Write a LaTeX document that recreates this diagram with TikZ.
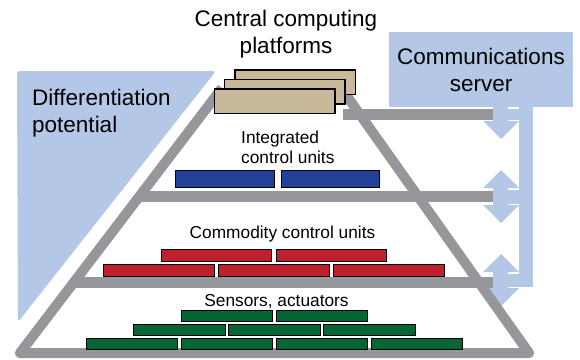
\documentclass[tikz,border=0pt]{standalone}
\usepackage{fontspec}
\setmainfont{Liberation Sans}
\usetikzlibrary{positioning}
\definecolor{pyrgray}{HTML}{96979A}
\definecolor{srvblue}{HTML}{B4C7E7}
\definecolor{cputan}{HTML}{C8B99B}
\definecolor{icublue}{HTML}{24419A}
\definecolor{ccured}{HTML}{C0202E}
\definecolor{sengreen}{HTML}{066535}

\begin{document}
\begin{tikzpicture}[x=1pt, y=-1pt,
    big/.style={font=\fontsize{22.5}{26.5}\selectfont, inner sep=0pt},
    small/.style={font=\fontsize{17.3}{19.5}\selectfont, inner sep=0pt},
    bar/.style={pyrgray, line width=11pt},
    plat/.style={draw=black, line width=1.5pt, fill=cputan, inner sep=0pt,
                 minimum width=120.5pt, minimum height=24.5pt},
    icu/.style={draw=black, line width=1.3pt, fill=icublue, inner sep=0pt,
                minimum width=98.5pt, minimum height=16.5pt},
    ccu/.style={draw=black, line width=1.3pt, fill=ccured, inner sep=0pt,
                minimum width=110.5pt, minimum height=11.7pt},
    sen/.style={draw=black, line width=1.3pt, fill=sengreen, inner sep=0pt,
                minimum width=91.5pt, minimum height=10.7pt}]
    \useasboundingbox (0,0) rectangle (580,359);
    \fill[srvblue, rounded corners=3pt] (17,71) -- (216,71) -- (18,322) -- cycle;
    \node[fill=srvblue, inner sep=0pt, minimum width=184pt, minimum height=75pt] (srv) at (481,69.5) {};
    \foreach \a/\b in {107/121, 188/205, 272/288} {
      \filldraw[srvblue, draw=white, line width=1pt] (500,\a+1) rectangle (526,\b-1);
      \fill[srvblue] (519,107) rectangle (533,287);
      \fill[srvblue] (493,\a) rectangle (508,\b);
      \fill[srvblue] (483,\b) -- (519,\b) -- (501,\b+18) -- cycle;
    }
    \foreach \a in {188,272}
      \fill[srvblue] (483,\a) -- (519,\a) -- (501,\a-18) -- cycle;
    \draw[pyrgray, line width=10pt, line join=round] (222,88) -- (20,353) -- (529,353) -- (344,92);
    \draw[bar] (343,114) -- (493,114);
    \draw[bar] (140,196) -- (493,196);
    \draw[bar] (74,282) -- (493,282);
    \node[plat] (cp3) at (295,82) {};
    \node[plat] (cp2) at (284.5,91.5) {};
    \node[plat] (cp1) at (274.5,101) {};
    \foreach \x [count=\i] in {225,330.5}
      \node[icu] (icu\i) at (\x,179) {};
    \foreach \x [count=\i] in {216.5,331.5}
      \node[ccu] (ccua\i) at (\x,255.5) {};
    \foreach \x [count=\i] in {159,274,389}
      \node[ccu] (ccub\i) at (\x,270.5) {};
    \foreach \x [count=\i] in {227,322}
      \node[sen] (sena\i) at (\x,316) {};
    \foreach \x [count=\i] in {179.5,274.5,369.5}
      \node[sen] (senb\i) at (\x,330) {};
    \foreach \x [count=\i] in {132,227,322,417}
      \node[sen] (senc\i) at (\x,344) {};
    \node[big, align=center, anchor=base] (cplbl) at (286,53) {Central computing\\platforms};
    \node[big, align=left, anchor=base west] (difflbl) at (32,132) {Differentiation\\potential};
    \node[big, align=center, anchor=base] (srvlbl) at (481,91) {Communications\\server};
    \node[small, align=left, anchor=base west] (iculbl) at (241,163) {Integrated\\control units};
    \node[small, anchor=base] (cculbl) at (282.5,238) {Commodity control units};
    \node[small, anchor=base] (senlbl) at (276.5,306) {Sensors, actuators};
\end{tikzpicture}
\end{document}
